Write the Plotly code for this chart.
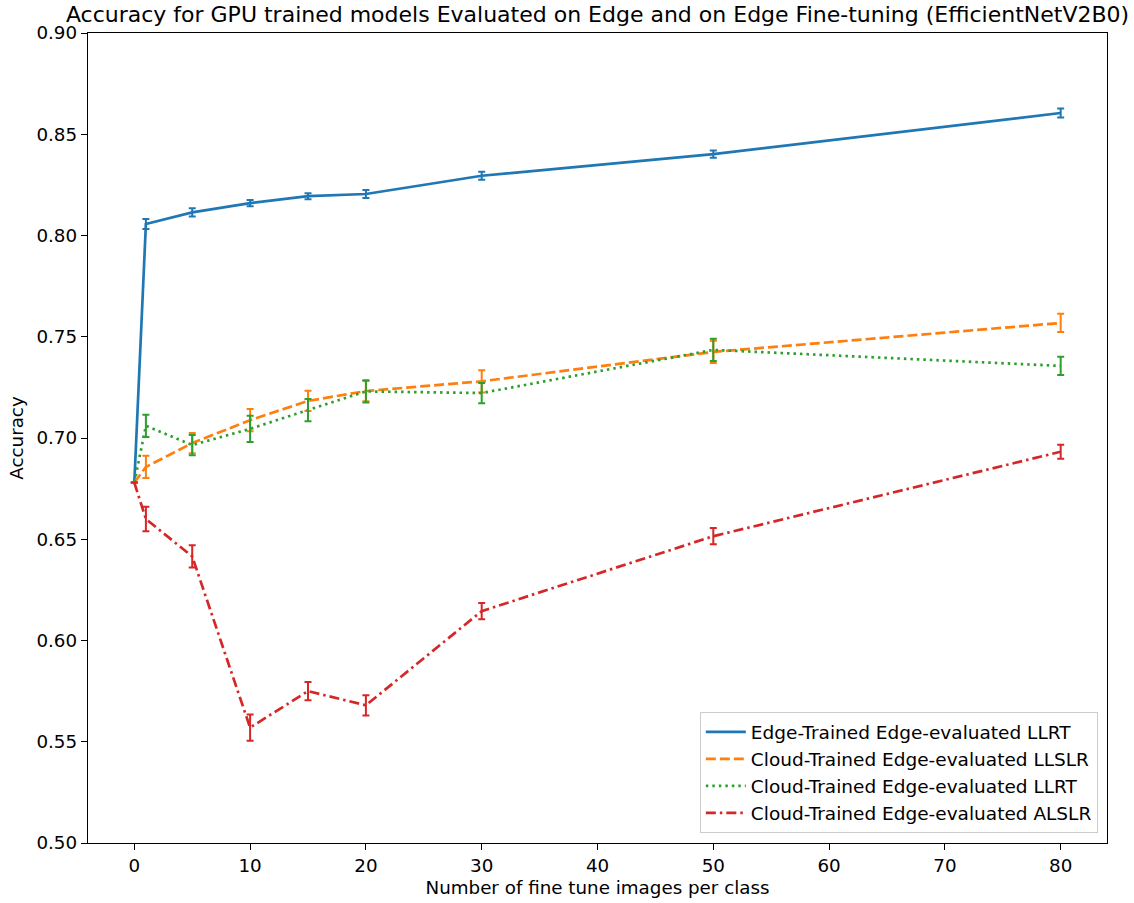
import plotly.graph_objects as go

x_vals = [0, 1, 5, 10, 15, 20, 30, 50, 80]

edge_llrt = [0.678, 0.8057, 0.8114, 0.8160, 0.8194, 0.8205, 0.8295, 0.8402, 0.8605]
edge_llrt_err = [0.0, 0.0025, 0.0020, 0.0015, 0.0015, 0.0020, 0.0020, 0.0018, 0.0022]

cloud_llslr = [0.678, 0.6857, 0.6975, 0.7088, 0.7183, 0.7232, 0.7280, 0.7425, 0.7568]
cloud_llslr_err = [0.0, 0.0055, 0.0050, 0.0055, 0.0050, 0.0050, 0.0055, 0.0055, 0.0045]

cloud_llrt = [0.678, 0.7060, 0.6965, 0.7045, 0.7138, 0.7230, 0.7222, 0.7435, 0.7356]
cloud_llrt_err = [0.0, 0.0055, 0.0050, 0.0065, 0.0055, 0.0055, 0.0050, 0.0055, 0.0045]

cloud_alslr = [0.678, 0.6600, 0.6415, 0.5570, 0.5750, 0.5680, 0.6145, 0.6515, 0.6932]
cloud_alslr_err = [0.0, 0.0060, 0.0055, 0.0065, 0.0045, 0.0050, 0.0040, 0.0040, 0.0035]

names = [
    "Edge-Trained Edge-evaluated LLRT",
    "Cloud-Trained Edge-evaluated LLSLR",
    "Cloud-Trained Edge-evaluated LLRT",
    "Cloud-Trained Edge-evaluated ALSLR",
]
colors = ["#1f77b4", "#ff7f0e", "#2ca02c", "#d62728"]
dashes = ["solid", "10px,4px", "2.5px,4px", "10px,4px,2.5px,4px"]
series = [edge_llrt, cloud_llslr, cloud_llrt, cloud_alslr]
errors = [edge_llrt_err, cloud_llslr_err, cloud_llrt_err, cloud_alslr_err]

fig = go.Figure()
for name, col, dash, ys, es in zip(names, colors, dashes, series, errors):
    fig.add_trace(go.Scatter(
        x=x_vals, y=ys, name=name, mode="lines",
        line=dict(color=col, width=2.7, dash=dash),
        error_y=dict(type="data", array=es, visible=True, color=col, thickness=2, width=3.5),
    ))

axis_common = dict(
    showgrid=False, zeroline=False, showline=True, linecolor="black", linewidth=1.4,
    mirror=True, ticks="outside", ticklen=6, tickwidth=1.4, tickcolor="black",
    tickfont=dict(size=18.3, color="black"), automargin=False,
)

fig.update_layout(
    width=1134, height=903,
    margin=dict(l=88, r=27, t=33, b=60),
    paper_bgcolor="white", plot_bgcolor="white",
    font=dict(family="DejaVu Sans", color="black"),
    title=dict(
        text="Accuracy for GPU trained models Evaluated on Edge and on Edge Fine-tuning (EfficientNetV2B0)",
        x=0.5, xref="paper", y=0.984, yanchor="middle", font=dict(size=22, color="black"),
    ),
    xaxis=dict(range=[-4, 84], tickvals=[0, 10, 20, 30, 40, 50, 60, 70, 80],
               title=dict(text="Number of fine tune images per class", font=dict(size=18.3), standoff=6),
               **axis_common),
    yaxis=dict(range=[0.5, 0.9], tickvals=[0.5, 0.55, 0.6, 0.65, 0.7, 0.75, 0.8, 0.85, 0.9],
               tickformat=".2f",
               title=dict(text="Accuracy", font=dict(size=18.3), standoff=8),
               **axis_common),
    legend=dict(
        x=0.991, y=0.012, xanchor="right", yanchor="bottom",
        bgcolor="rgba(255,255,255,0.8)", bordercolor="#cccccc", borderwidth=1,
        font=dict(size=18.5, color="black"), tracegroupgap=0, itemwidth=40,
    ),
    showlegend=True,
)

fig.write_html("out.html")
